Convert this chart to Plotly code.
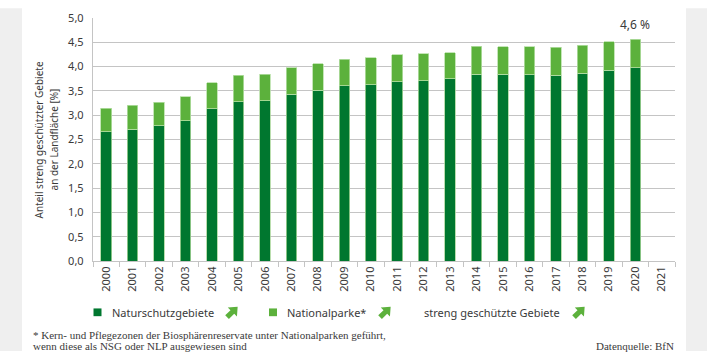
import math
import plotly.graph_objects as go

years = [str(y) for y in range(2000, 2022)]
naturschutzgebiete = [2.66, 2.71, 2.78, 2.89, 3.13, 3.28, 3.30, 3.43, 3.51, 3.61, 3.63,
                      3.69, 3.71, 3.75, 3.84, 3.84, 3.83, 3.82, 3.86, 3.93, 3.98, None]
nationalparke = [0.48, 0.49, 0.49, 0.49, 0.54, 0.54, 0.54, 0.55, 0.55, 0.54, 0.55,
                 0.55, 0.55, 0.54, 0.58, 0.57, 0.58, 0.58, 0.58, 0.58, 0.58, None]
y_ticks = [0, 0.5, 1.0, 1.5, 2.0, 2.5, 3.0, 3.5, 4.0, 4.5, 5.0]
label_2020 = "4,6 %"

DARK = "#00772f"
LIGHT = "#5cb13c"
GRID = "#c4c4c4"
TXT = "#3a3a3a"
SANS = "Noto Sans, Open Sans, sans-serif"
SERIF = "Liberation Serif, serif"

W, H = 707, 354
L, R, T, B = 93, 675, 10, 261


def px(x):
    return (x - L) / (R - L)


def py(y):
    return (B - y) / (B - T)


fig = go.Figure()
fig.add_bar(x=years, y=naturschutzgebiete, name="Naturschutzgebiete",
            marker=dict(color=DARK, line=dict(color="#a9d69a", width=0.8)), width=0.4)
fig.add_bar(x=years, y=nationalparke, name="Nationalparke*",
            marker=dict(color=LIGHT, line=dict(color="#b6e0a6", width=0.8)), width=0.4)

shapes = []
shapes.append(dict(type="rect", xref="paper", yref="paper", x0=px(0), x1=px(22),
                   y0=py(H), y1=py(0), fillcolor="#efefef", line_width=0, layer="below"))
shapes.append(dict(type="rect", xref="paper", yref="paper", x0=px(686), x1=px(W),
                   y0=py(H), y1=py(0), fillcolor="#efefef", line_width=0, layer="below"))

for cx, col in [(97.5, DARK), (273, LIGHT)]:
    shapes.append(dict(type="rect", xref="paper", yref="paper",
                       x0=px(cx - 4), x1=px(cx + 4), y0=py(318), y1=py(310),
                       fillcolor=col, line_width=0))


def arrow_path(cx, cy, s=1.0):
    pts = [(-7, -2.6), (0.5, -2.6), (0.5, -6.5), (8, 0), (0.5, 6.5), (0.5, 2.6), (-7, 2.6)]
    a = -math.pi / 4
    out = []
    for x, y in pts:
        xr = x * math.cos(a) - y * math.sin(a)
        yr = x * math.sin(a) + y * math.cos(a)
        out.append((px(cx + xr * s), py(cy + yr * s)))
    return "M " + " L ".join(f"{a:.5f},{b:.5f}" for a, b in out) + " Z"


for cx in [232, 385, 579]:
    shapes.append(dict(type="path", xref="paper", yref="paper", path=arrow_path(cx, 314),
                       fillcolor=LIGHT, line_width=0))

annotations = []
annotations.append(dict(x=20, y=naturschutzgebiete[20] + nationalparke[20],
                        xref="x", yref="y", text=label_2020, showarrow=False,
                        yanchor="bottom", yshift=4, font=dict(family=SANS, size=12, color=TXT)))
for xc, txt in [(38.5, "Anteil streng geschützter Gebiete"), (53.5, "an der Landfläche [%]")]:
    annotations.append(dict(x=px(xc), y=py(136), xref="paper", yref="paper",
                            text=txt, textangle=-90, showarrow=False,
                            xanchor="center", yanchor="middle",
                            font=dict(family=SANS, size=10, color=TXT)))
for x0, txt in [(110, "Naturschutzgebiete"), (285, "Nationalparke*"), (422, "streng geschützte Gebiete")]:
    annotations.append(dict(x=px(x0), y=py(314), xref="paper", yref="paper", text=txt,
                            showarrow=False, xanchor="left", yanchor="middle",
                            font=dict(family=SANS, size=11, color=TXT)))
annotations.append(dict(x=px(31), y=py(337), xref="paper", yref="paper",
                        text="* Kern- und Pflegezonen der Biosphärenreservate unter Nationalparken geführt,",
                        showarrow=False, xanchor="left", yanchor="middle",
                        font=dict(family=SERIF, size=11, color=TXT)))
annotations.append(dict(x=px(31), y=py(349), xref="paper", yref="paper",
                        text="wenn diese als NSG oder NLP ausgewiesen sind",
                        showarrow=False, xanchor="left", yanchor="middle",
                        font=dict(family=SERIF, size=11, color=TXT)))
annotations.append(dict(x=px(676), y=py(349), xref="paper", yref="paper",
                        text="Datenquelle: BfN",
                        showarrow=False, xanchor="right", yanchor="middle",
                        font=dict(family=SERIF, size=11, color=TXT)))

fig.update_layout(
    width=W, height=H, barmode="stack", showlegend=False,
    margin=dict(l=L, r=W - R, t=T, b=H - B, pad=0),
    paper_bgcolor="white", plot_bgcolor="white",
    separators=",.",
    shapes=shapes, annotations=annotations,
    xaxis=dict(type="category", categoryorder="array", categoryarray=years,
               range=[-0.5, len(years) - 0.5], autorange=False,
               tickangle=-90, ticks="outside", tickson="boundaries", ticklen=5,
               tickcolor=GRID, showline=True, linecolor=GRID, linewidth=1.3,
               showgrid=False, tickfont=dict(family=SANS, size=11, color=TXT)),
    yaxis=dict(range=[0, 5], tickvals=y_ticks, tickformat=".1f", showgrid=True,
               gridcolor=GRID, gridwidth=1.3, showline=True, linecolor=GRID, linewidth=1.3,
               zeroline=False, ticks="", ticklabelstandoff=6,
               tickfont=dict(family=SANS, size=11, color=TXT)),
)

fig.write_html("out.html")
